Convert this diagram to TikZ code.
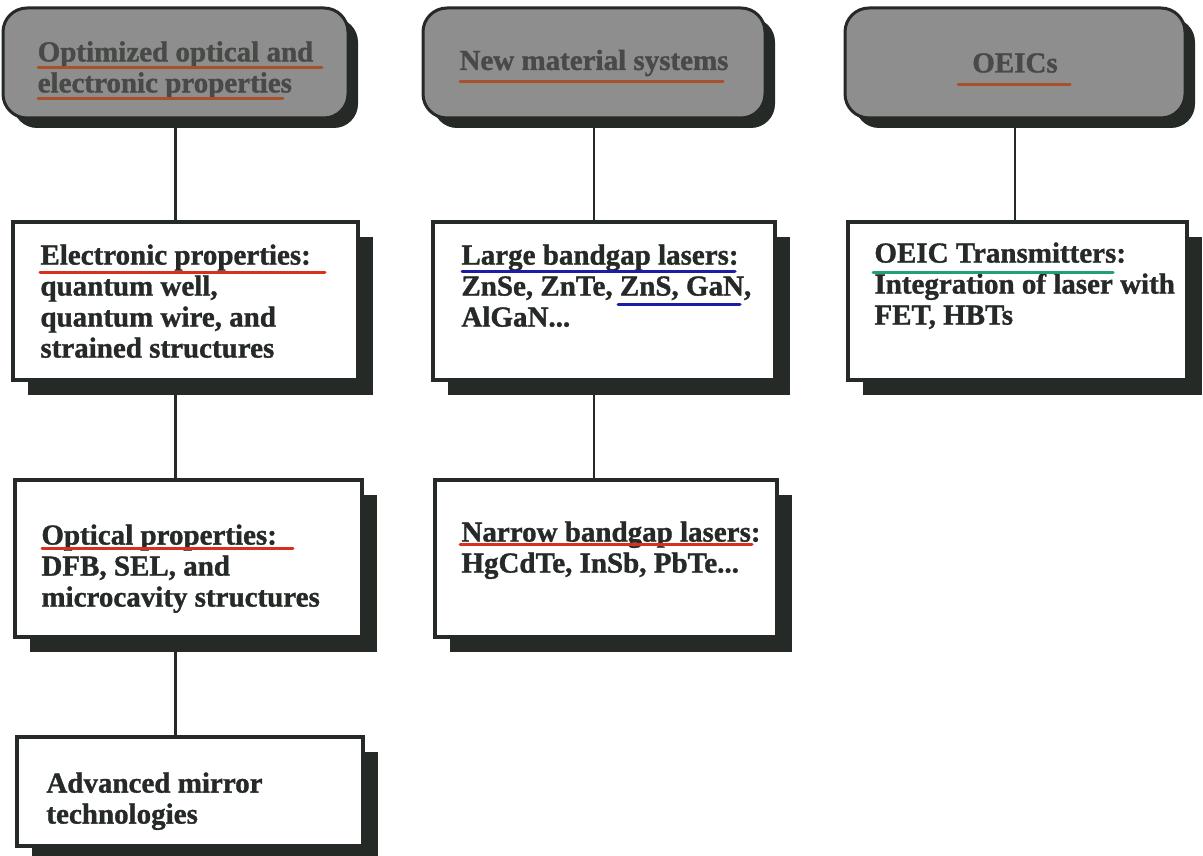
\documentclass[tikz,border=0pt]{standalone}
\usepackage{fontspec}
\setmainfont{Liberation Serif}[BoldFeatures={FakeBold=1.2}]
\usetikzlibrary{shadows}
\definecolor{ink}{HTML}{262A27}
\definecolor{plate}{HTML}{8E8E8E}
\definecolor{redline}{HTML}{D9301E}
\definecolor{rustline}{HTML}{A8502A}
\definecolor{blueline}{HTML}{1C1CA6}
\definecolor{greenline}{HTML}{1FA173}
\tikzset{
  topic/.style={draw=ink, line width=3pt, fill=plate, rounded corners=24pt, minimum height=110pt, inner sep=0pt, align=left, text=ink!85, font=\bfseries\fontsize{29}{31}\selectfont, drop shadow={fill=ink, opacity=1, shadow xshift=10pt, shadow yshift=-10pt}},
  panel/.style={draw=ink, line width=3.5pt, fill=white, inner sep=0pt, drop shadow={fill=ink, opacity=1, shadow xshift=15pt, shadow yshift=-15pt}},
  body/.style={anchor=north west, inner sep=0pt, align=left, text=ink, font=\bfseries\fontsize{29}{31}\selectfont},
  link/.style={draw=ink, line width=2.2pt},
  uline/.style={line width=3pt, line cap=round}
}

\begin{document}
\begin{tikzpicture}[x=1pt, y=-1pt]
\useasboundingbox (0,0) rectangle (1203,856);
\node[topic, minimum width=345pt] (optel) at (175.5,63) {\rule{0pt}{34pt}Optimized optical and\\electronic properties};
\node[topic, minimum width=342pt] (matsys) at (594,63) {New material systems};
\node[topic, minimum width=340pt] (oeics) at (1015,63) {OEICs};

\node[panel, minimum width=345pt, minimum height=158pt] (elec) at (185.5,301) {};
\node[panel, minimum width=342pt, minimum height=158pt] (large) at (604,301) {};
\node[panel, minimum width=339pt, minimum height=158pt] (oeic) at (1017.5,301) {};
\node[panel, minimum width=347pt, minimum height=157pt] (optic) at (188.5,558.5) {};
\node[panel, minimum width=342pt, minimum height=157pt] (narrow) at (606,558.5) {};
\node[panel, minimum width=346pt, minimum height=109pt] (mirror) at (190,791.5) {};

\node[body] (electext) at ([shift={(29,24)}]elec.north west) {Electronic properties:\\quantum well,\\quantum wire, and\\strained structures};
\node[body] (largetext) at ([shift={(30,24)}]large.north west) {Large bandgap lasers:\\ZnSe, ZnTe, ZnS, GaN,\\AlGaN...};
\node[body] (oeictext) at ([shift={(28,22)}]oeic.north west) {OEIC Transmitters:\\Integration of laser with\\FET, HBTs};
\node[body] (optictext) at ([shift={(28,46)}]optic.north west) {Optical properties:\\DFB, SEL, and\\microcavity structures};
\node[body] (narrowtext) at ([shift={(28,43)}]narrow.north west) {Narrow bandgap lasers:\\HgCdTe, InSb, PbTe...};
\node[body] (mirrortext) at ([shift={(31,37)}]mirror.north west) {Advanced mirror\\technologies};

\draw[link] (optel.south) -- (optel.south |- elec.north);
\draw[link] (elec.south -| optel.south) -- (optel.south |- optic.north);
\draw[link] (optic.south -| optel.south) -- (optel.south |- mirror.north);
\draw[link] (matsys.south) -- (matsys.south |- large.north);
\draw[link] (large.south -| matsys.south) -- (matsys.south |- narrow.north);
\draw[link] (oeics.south) -- (oeics.south |- oeic.north);

\draw[uline, rustline] (38,68) -- (322,68);
\draw[uline, rustline] (38,99) -- (283,99);
\draw[uline, rustline] (460,82) -- (723,82);
\draw[uline, rustline] (958,85) -- (1070,85);
\draw[uline, redline] (40,272) -- (325,272);
\draw[uline, blueline] (462,271) -- (735,271);
\draw[uline, blueline] (618,304) -- (740,304);
\draw[uline, greenline] (873,272) -- (1113,272);
\draw[uline, redline] (42,548) -- (293,548);
\draw[uline, redline] (460,544) -- (752,544);
\end{tikzpicture}
\end{document}
